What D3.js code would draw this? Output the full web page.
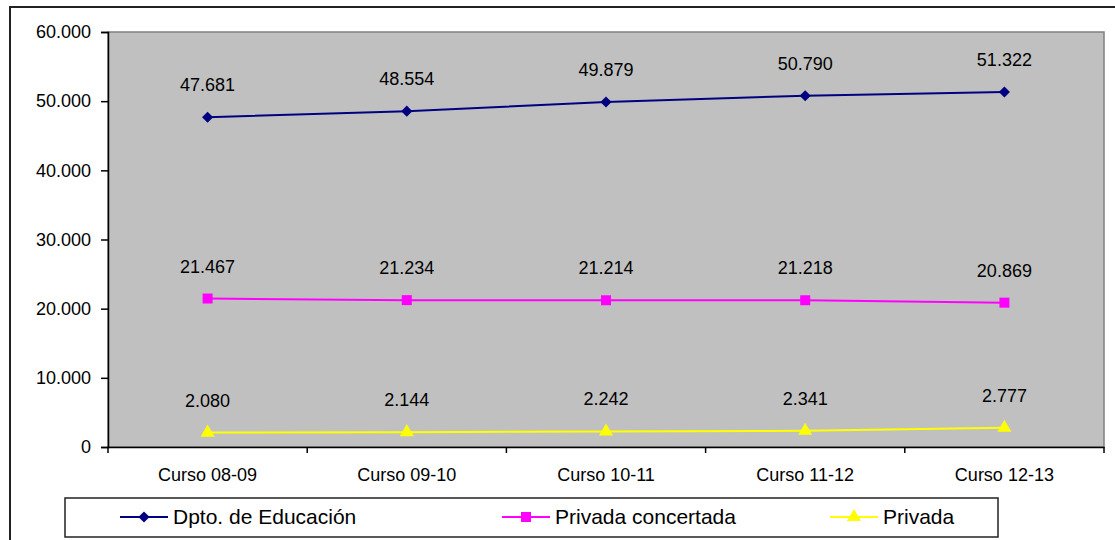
<!DOCTYPE html>
<html>
<head>
<meta charset="utf-8">
<script src="https://cdn.jsdelivr.net/npm/d3@7"></script>
<style>
  body { margin: 0; background: #fff; }
  text { font-family: "Liberation Sans", Arial, sans-serif; fill: #000; }
</style>
</head>
<body>
<svg id="chart" width="1115" height="540"></svg>
<script>
// chart data
const cursos = ["Curso 08-09", "Curso 09-10", "Curso 10-11", "Curso 11-12", "Curso 12-13"];
const educacion = [47681, 48554, 49879, 50790, 51322];
const concertada = [21467, 21234, 21214, 21218, 20869];
const privada = [2080, 2144, 2242, 2341, 2777];
const yTicks = [0, 10000, 20000, 30000, 40000, 50000, 60000];
const seriesNames = ["Dpto. de Educación", "Privada concertada", "Privada"];

const svg = d3.select("#chart");
const plot = { left: 108, right: 1104, top: 32, bottom: 447 };

const fmt = d => d3.format(",")(d).replace(/,/g, ".");

// diamond = square turned 45deg
const series = [
  { name: seriesNames[0], values: educacion, color: "#000080", symbol: d3.symbolSquare, size: 62, rot: 45 },
  { name: seriesNames[1], values: concertada, color: "#FF00FF", symbol: d3.symbolSquare, size: 100, rot: 0 },
  { name: seriesNames[2], values: privada, color: "#FFFF00", symbol: d3.symbolTriangle, size: 85, rot: 0 }
];

// outer frame (runs past the picture on right/bottom)
svg.append("rect")
  .attr("x", 10).attr("y", 7)
  .attr("width", 1130).attr("height", 560)
  .attr("fill", "none").attr("stroke", "#222").attr("stroke-width", 2);

const x = d3.scaleBand().domain(cursos).range([plot.left, plot.right]);
const y = d3.scaleLinear().domain([0, 60000]).range([plot.bottom, plot.top]);

// plot background
svg.append("rect")
  .attr("x", plot.left).attr("y", plot.top)
  .attr("width", plot.right - plot.left).attr("height", plot.bottom - plot.top)
  .attr("fill", "#C0C0C0").attr("stroke", "#808080").attr("stroke-width", 1.5);

// y axis
const yAxis = svg.append("g")
  .attr("transform", `translate(${plot.left},0)`)
  .call(d3.axisLeft(y).tickValues(yTicks).tickFormat(fmt).tickSize(7).tickPadding(10));
yAxis.select(".domain").attr("stroke", "#000").attr("stroke-width", 1.5);
yAxis.selectAll(".tick line").attr("stroke", "#000").attr("stroke-width", 1.5);
yAxis.selectAll("text").style("font-size", "18px").attr("fill", "#000");

// x axis: labels under the bands, ticks on the band edges
const xAxis = svg.append("g")
  .attr("transform", `translate(0,${plot.bottom})`)
  .call(d3.axisBottom(x).tickSize(0).tickPadding(21));
xAxis.select(".domain").attr("stroke", "#000").attr("stroke-width", 1.5);
xAxis.selectAll("text").style("font-size", "18px").attr("fill", "#000");
const edges = cursos.map(c => x(c)).concat([x(cursos[cursos.length - 1]) + x.bandwidth()]);
xAxis.selectAll(".edge")
  .data(edges)
  .enter().append("line")
  .attr("x1", d => d).attr("x2", d => d)
  .attr("y1", 0).attr("y2", 6)
  .attr("stroke", "#000").attr("stroke-width", 1.5);

const cx = c => x(c) + x.bandwidth() / 2;
const line = d3.line().x((d, i) => cx(cursos[i])).y(d => y(d));

series.forEach(s => {
  const g = svg.append("g");
  g.append("path")
    .datum(s.values)
    .attr("d", line)
    .attr("fill", "none")
    .attr("stroke", s.color)
    .attr("stroke-width", 2);
  g.selectAll(".pt")
    .data(s.values)
    .enter().append("path")
    .attr("transform", (d, i) => `translate(${cx(cursos[i])},${y(d)}) rotate(${s.rot})`)
    .attr("d", d3.symbol().type(s.symbol).size(s.size))
    .attr("fill", s.color);
  g.selectAll(".lbl")
    .data(s.values)
    .enter().append("text")
    .attr("x", (d, i) => cx(cursos[i]))
    .attr("y", d => y(d) - 26)
    .attr("text-anchor", "middle")
    .style("font-size", "18px")
    .text(fmt);
});

// legend
const legend = svg.append("g");
legend.append("rect")
  .attr("x", 65).attr("y", 498)
  .attr("width", 933).attr("height", 39)
  .attr("fill", "#fff").attr("stroke", "#222").attr("stroke-width", 1.5);
const legendX = [120, 502, 830];
series.forEach((s, i) => {
  const lx = legendX[i];
  legend.append("line")
    .attr("x1", lx).attr("x2", lx + 48)
    .attr("y1", 517).attr("y2", 517)
    .attr("stroke", s.color).attr("stroke-width", 2);
  legend.append("path")
    .attr("transform", `translate(${lx + 24},517) rotate(${s.rot})`)
    .attr("d", d3.symbol().type(s.symbol).size(s.size))
    .attr("fill", s.color);
  legend.append("text")
    .attr("x", lx + 53).attr("y", 524)
    .style("font-size", "21px")
    .text(s.name);
});
</script>
</body>
</html>
